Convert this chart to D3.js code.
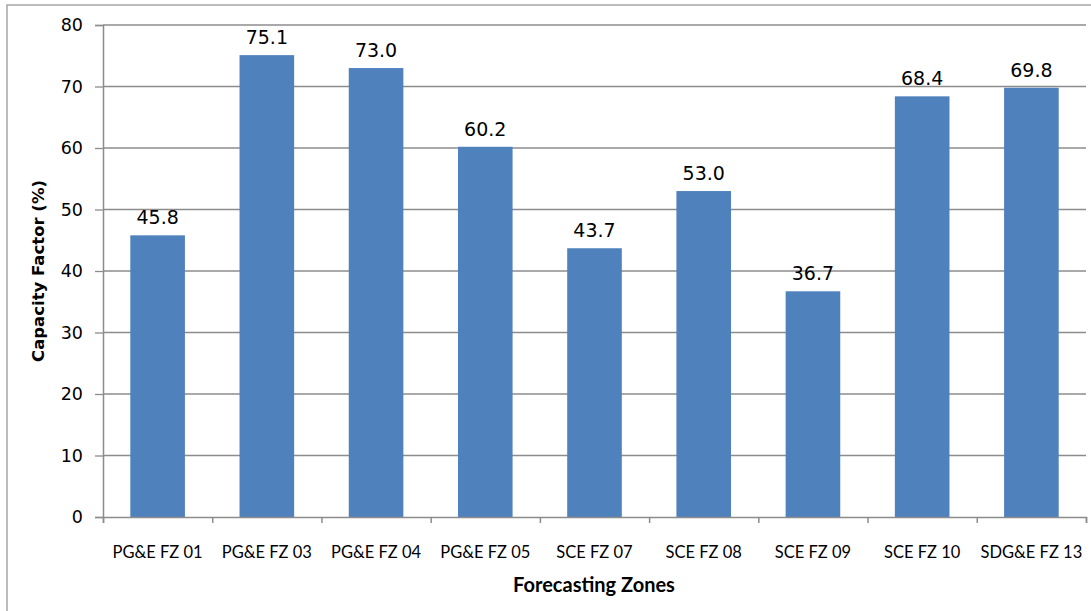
<!DOCTYPE html>
<html><head><meta charset="utf-8">
<script src="https://cdn.jsdelivr.net/npm/d3@7"></script>
<style>body{margin:0;background:#fff}</style>
</head><body>
<svg id="c" width="1091" height="611"></svg>
<script>
const categories = ["PG&E FZ 01","PG&E FZ 03","PG&E FZ 04","PG&E FZ 05","SCE FZ 07","SCE FZ 08","SCE FZ 09","SCE FZ 10","SDG&E FZ 13"];
const values = [45.8, 75.1, 73.0, 60.2, 43.7, 53.0, 36.7, 68.4, 69.8];
const yTicks = [0,10,20,30,40,50,60,70,80];
const yTitle = "Capacity Factor (%)";
const xTitle = "Forecasting Zones";

const svg = d3.select("#c");
const L = 103, R = 1086, T = 25, B = 517;

svg.append("rect").attr("x",7).attr("y",5).attr("width",1100).attr("height",620)
  .attr("fill","#fff").attr("stroke","#a6a6a6").attr("stroke-width",1.5);

const x = d3.scaleBand().domain(categories).range([L,R]).paddingInner(0.5).paddingOuter(0.25);
const y = d3.scaleLinear().domain([0,80]).range([B,T]);

// gridlines
svg.append("g").selectAll("line").data(yTicks.filter(d=>d>0)).join("line")
  .attr("x1",L).attr("x2",R).attr("y1",d=>y(d)).attr("y2",d=>y(d))
  .attr("stroke","#8c8c8c").attr("stroke-width",1.3);

// y axis
const ya = svg.append("g").attr("transform",`translate(${L},0)`)
  .call(d3.axisLeft(y).tickValues(yTicks).tickSize(8).tickPadding(12));
ya.select(".domain").attr("stroke","#8c8c8c").attr("stroke-width",1.5);
ya.selectAll(".tick line").attr("stroke","#8c8c8c").attr("stroke-width",1.3);
ya.selectAll(".tick text").attr("font-family","DejaVu Sans").attr("font-size",17.5).attr("fill","#000");

// bars
svg.append("g").selectAll("rect").data(values).join("rect")
  .attr("x",(d,i)=>x(categories[i])).attr("width",x.bandwidth())
  .attr("y",d=>y(d)).attr("height",d=>B-y(d)).attr("fill","#4f81bd");

// x axis
const xb = d3.scaleLinear().domain([0,categories.length]).range([L,R]);
const xa = svg.append("g").attr("transform",`translate(0,${B})`)
  .call(d3.axisBottom(xb).ticks(categories.length).tickSize(6).tickFormat(""));
xa.select(".domain").attr("stroke","#8c8c8c").attr("stroke-width",1.5);
xa.selectAll(".tick line").attr("stroke","#8c8c8c").attr("stroke-width",1.5);

svg.append("g").selectAll("text").data(categories).join("text")
  .attr("x",d=>x(d)+x.bandwidth()/2).attr("y",558)
  .attr("text-anchor","middle").attr("font-family","Lato, 'Open Sans', sans-serif")
  .attr("font-size",16.5).attr("fill","#000").text(d=>d);

// data labels
svg.append("g").selectAll("text").data(values).join("text")
  .attr("x",(d,i)=>x(categories[i])+x.bandwidth()/2).attr("y",d=>y(d)-11)
  .attr("text-anchor","middle").attr("font-family","DejaVu Sans")
  .attr("font-size",19).attr("fill","#000").text(d=>d.toFixed(1));

// titles
svg.append("text").attr("transform",`translate(44,${(T+B)/2}) rotate(-90)`)
  .attr("text-anchor","middle").attr("font-family","DejaVu Sans").attr("font-weight","bold")
  .attr("font-size",16.5).attr("fill","#000").text(yTitle);
svg.append("text").attr("x",594).attr("y",592)
  .attr("text-anchor","middle").attr("font-family","Lato, sans-serif").attr("font-weight","bold")
  .attr("font-size",20).attr("fill","#000").text(xTitle);
</script>
</body></html>
